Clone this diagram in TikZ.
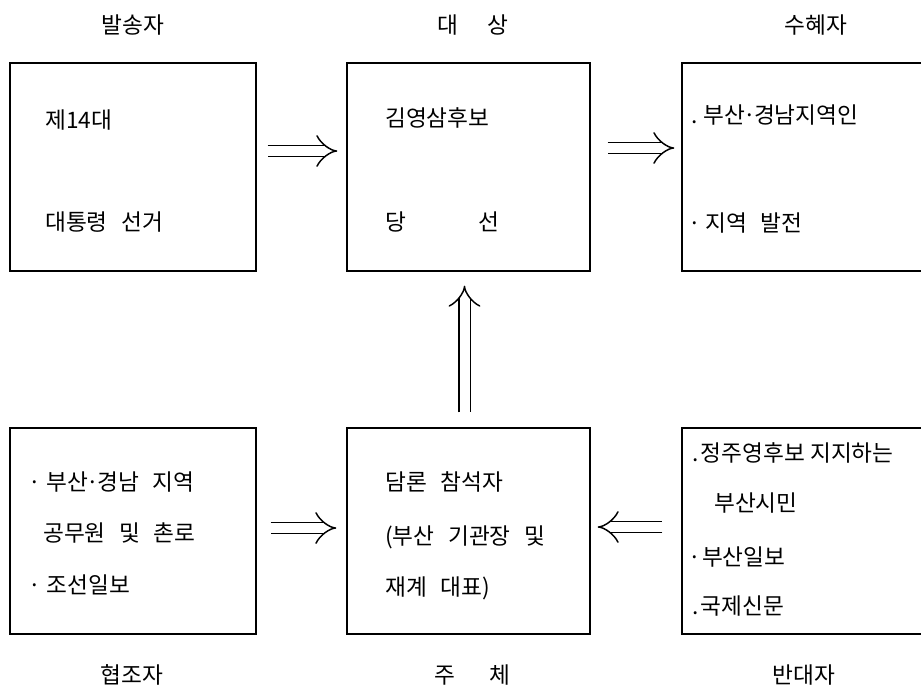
\documentclass[tikz,border=0pt]{standalone}
\usepackage{fontspec}
\setmainfont{Noto Sans CJK KR}
\usetikzlibrary{arrows.meta,calc}
\newcommand\kgap{\hspace{0.6em}}
\newcommand\mdot{\hbox to 0.4em{\hss·\hss}}
\begin{document}
\begin{tikzpicture}[x=0.75pt,y=-0.75pt,
  box/.style={draw, line width=1.1pt, rectangle, inner sep=0},
  txt/.style={inner sep=0, anchor=west, font=\fontsize{17}{20}\selectfont},
  lbl/.style={inner sep=0, font=\fontsize{17}{20}\selectfont},
  darr/.style={double, double distance=7.5pt, line width=1.1pt, -{Implies}}]
\clip (0,0) rectangle (921,693);
% boxes
\node[box, minimum width=184.5pt, minimum height=156pt] (send) at (133,167) {};
\node[box, minimum width=182.25pt, minimum height=156pt] (obj) at (468.5,167) {};
\node[box, minimum width=201pt, minimum height=156pt] (recv) at (816,167) {};
\node[box, minimum width=184.5pt, minimum height=154.5pt] (coop) at (133,531) {};
\node[box, minimum width=182.25pt, minimum height=154.5pt] (subj) at (468.5,531) {};
\node[box, minimum width=201pt, minimum height=154.5pt] (opp) at (816,531) {};
% labels
\node[lbl] (l1) at (133,25) {발송자};
\node[lbl] (l2) at (473,25) {대\hspace{1.3em}상};
\node[lbl] (l3) at (816,25) {수혜자};
\node[lbl] (l4) at (132,675) {협조자};
\node[lbl] (l5) at (472,675) {주\hspace{1.5em}체};
\node[lbl] (l6) at (804,675) {반대자};
% texts top
\node[txt] (t1) at (45,120) {제14대};
\node[txt] (t2) at (45,222) {대통령\kgap 선거};
\node[txt] (t3) at (385,118) {김영삼후보};
\node[txt] (t4) at (385,222) {당\hspace{3.2em}선};
\node[txt] (t5) at (691,115) {.\hspace{0.25em}부산\mdot 경남지역인};
\node[txt] (t6) at (688,223) {·\hspace{0.2em}지역\kgap 발전};
% texts bottom
\node[txt] (b1) at (28,482) {·\hspace{0.25em}부산\mdot 경남\kgap 지역};
\node[txt] (b2) at (43,533) {공무원\kgap 및\kgap 촌로};
\node[txt] (b3) at (28,585) {·\hspace{0.25em}조선일보};
\node[txt] (b4) at (385,482) {담론\kgap 참석자};
\node[txt] (b5) at (385,537) {(부산\kgap 기관장\kgap 및};
\node[txt] (b6) at (385,588) {재계\kgap 대표)};
\node[txt] (b7) at (692,453) {.\hspace{0.1em}정주영후보 지지하는};
\node[txt] (b8) at (714,503) {부산시민};
\node[txt] (b9) at (688,557) {·\hspace{0.05em}부산일보};
\node[txt] (b10) at (692,606) {.\hspace{0.1em}국제신문};
% arrows
\draw[darr] ($(send.east)+(11,-16)$) -- ($(obj.west)+(-9,-16)$);
\draw[darr] ($(obj.east)+(17,-19)$) -- ($(recv.west)+(-7,-19)$);
\draw[darr] ($(subj.north)+(-4,-15)$) -- ($(obj.south)+(-4,14)$);
\draw[darr] ($(coop.east)+(14,-3)$) -- ($(subj.west)+(-10,-3)$);
\draw[darr] ($(opp.west)+(-19,-4)$) -- ($(subj.east)+(7,-4)$);
\end{tikzpicture}
\end{document}
